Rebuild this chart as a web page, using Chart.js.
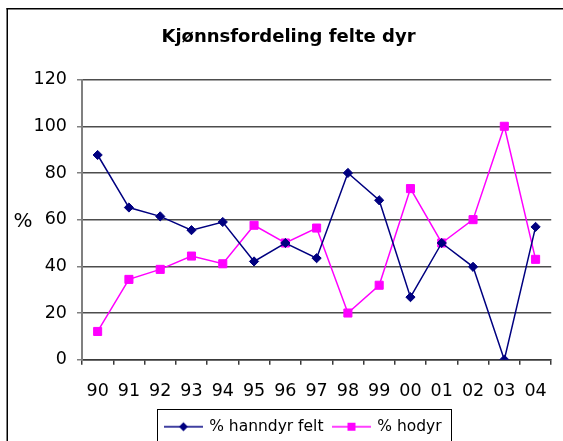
<!DOCTYPE html>
<html>
<head>
<meta charset="utf-8">
<script src="https://cdn.jsdelivr.net/npm/chart.js@4/dist/chart.umd.min.js"></script>
<style>
  html, body { margin: 0; padding: 0; background: #fff; overflow: hidden; }
  #kjonnChart { display: block; }
</style>
</head>
<body>
<canvas id="kjonnChart" width="563" height="441"></canvas>
<script>
// Kjønnsfordeling felte dyr (1990 - 2004)
const years = ['90', '91', '92', '93', '94', '95', '96', '97', '98', '99', '00', '01', '02', '03', '04'];
const hanndyr = [87.7, 65.2, 61.4, 55.5, 59.0, 42.1, 50.0, 43.5, 80.0, 68.3, 26.8, 50.0, 39.8, 0, 56.9];
const hodyr = [12.1, 34.4, 38.7, 44.4, 41.1, 57.6, 50.0, 56.4, 20.0, 31.9, 73.3, 50.0, 60.0, 100, 43.0];
const yTicks = [0, 20, 40, 60, 80, 100, 120];

const NAVY = '#000080';
const PINK = '#ff00ff';
const FONT = 'DejaVu Sans';

// legend swatch: short line with the marker in the middle
function makeSwatch(color, style) {
    const c = document.createElement('canvas');
    c.width = 39; c.height = 12;
    const g = c.getContext('2d');
    g.strokeStyle = color;
    g.fillStyle = color;
    g.lineWidth = 1.5;
    g.beginPath();
    g.moveTo(0, 6); g.lineTo(39, 6);
    g.stroke();
    g.beginPath();
    if (style === 'rectRot') {
        g.moveTo(15, 6); g.lineTo(19.5, 1.5); g.lineTo(24, 6); g.lineTo(19.5, 10.5);
    } else {
        g.rect(15.5, 2, 8, 8);
    }
    g.closePath();
    g.fill();
    return c;
}
const swatches = [makeSwatch(NAVY, 'rectRot'), makeSwatch(PINK, 'rect')];

const LEGEND_H = 32;
const LEGEND_SHIFT = 15;

const tweaks = {
    id: 'tweaks',
    afterInit(chart) {
        const lg = chart.legend;
        const fit = lg.fit;
        lg.fit = function () { fit.call(this); this.height = LEGEND_H; };
    },
    afterLayout(chart) {
        const lg = chart.legend;
        lg.left += LEGEND_SHIFT;
        lg.right += LEGEND_SHIFT;
    },
    beforeDraw(chart) {
        const ctx = chart.ctx;
        ctx.save();
        ctx.fillStyle = '#fff';
        ctx.fillRect(0, 0, chart.width, chart.height);
        // outer frame: only its left and top edges are inside the picture
        ctx.fillStyle = '#000';
        ctx.fillRect(6.5, 8, 1.5, chart.height - 8);
        ctx.fillRect(6.5, 8, chart.width - 6.5, 1.5);
        ctx.restore();
    },
    afterDraw(chart) {
        const ctx = chart.ctx;
        const lg = chart.legend;
        const hb = lg.legendHitBoxes;
        ctx.save();
        if (hb && hb.length) {
            const last = hb[hb.length - 1];
            const x0 = Math.round(hb[0].left - 8);
            const x1 = Math.round(last.left + last.width + 9);
            const y0 = Math.round(lg.top);
            ctx.fillStyle = '#000';
            ctx.fillRect(x0, y0, 1, chart.height - y0);
            ctx.fillRect(x1, y0, 1, chart.height - y0);
            ctx.fillRect(x0, y0, x1 - x0 + 1, 1);
        }
        const area = chart.chartArea;
        ctx.fillStyle = '#000';
        ctx.font = '20px "' + FONT + '"';
        ctx.textAlign = 'center';
        ctx.textBaseline = 'middle';
        ctx.fillText('%', 23, (area.top + area.bottom) / 2 + 2);
        ctx.restore();
    }
};

new Chart(document.getElementById('kjonnChart'), {
    type: 'line',
    data: {
        labels: years,
        datasets: [
            {
                label: '% hanndyr felt',
                data: hanndyr,
                borderColor: NAVY,
                backgroundColor: NAVY,
                borderWidth: 1.5,
                pointStyle: 'rectRot',
                pointRadius: 4.6,
                pointBorderWidth: 1,
                tension: 0,
                fill: false
            },
            {
                label: '% hodyr',
                data: hodyr,
                borderColor: PINK,
                backgroundColor: PINK,
                borderWidth: 1.5,
                pointStyle: 'rect',
                pointRadius: 5.7,
                pointBorderWidth: 1,
                tension: 0,
                fill: false
            }
        ]
    },
    options: {
        responsive: false,
        animation: false,
        layout: { padding: { left: 22, right: 8, top: 0, bottom: 0 } },
        plugins: {
            title: {
                display: true,
                text: 'Kjønnsfordeling felte dyr',
                color: '#000',
                font: { family: FONT, size: 18, weight: 'bold' },
                padding: { top: 27, bottom: 31 }
            },
            legend: {
                display: true,
                position: 'bottom',
                labels: {
                    color: '#000',
                    font: { family: FONT, size: 15.5 },
                    usePointStyle: true,
                    pointStyleWidth: 36,
                    padding: 10,
                    generateLabels(chart) {
                        const items = Chart.defaults.plugins.legend.labels.generateLabels(chart);
                        items.forEach((it, i) => { it.pointStyle = swatches[i]; });
                        return items;
                    }
                }
            },
            tooltip: { enabled: false }
        },
        scales: {
            x: {
                offset: true,
                afterFit(scale) { scale.height = 49.3; },
                border: { display: true, color: '#3a3a3a', width: 1.5 },
                grid: {
                    offset: true,
                    drawOnChartArea: false,
                    drawTicks: true,
                    tickLength: 5,
                    color: '#3a3a3a',
                    lineWidth: 1.5
                },
                ticks: {
                    color: '#000',
                    font: { family: FONT, size: 17.5 },
                    padding: 16,
                    maxRotation: 0,
                    autoSkip: false
                }
            },
            y: {
                min: 0,
                max: 120,
                afterFit(scale) { scale.width = 60; },
                afterBuildTicks(scale) { scale.ticks = yTicks.map(v => ({ value: v })); },
                border: { display: true, color: '#808080', width: 2 },
                grid: {
                    color: ctx => (ctx.tick && ctx.tick.value === 0) ? '#3a3a3a' : '#4d4d4d',
                    lineWidth: 1.5,
                    tickLength: 5,
                    tickColor: '#808080'
                },
                ticks: {
                    color: '#000',
                    font: { family: FONT, size: 17.5 },
                    padding: 10
                }
            }
        }
    },
    plugins: [tweaks]
});
</script>
</body>
</html>
